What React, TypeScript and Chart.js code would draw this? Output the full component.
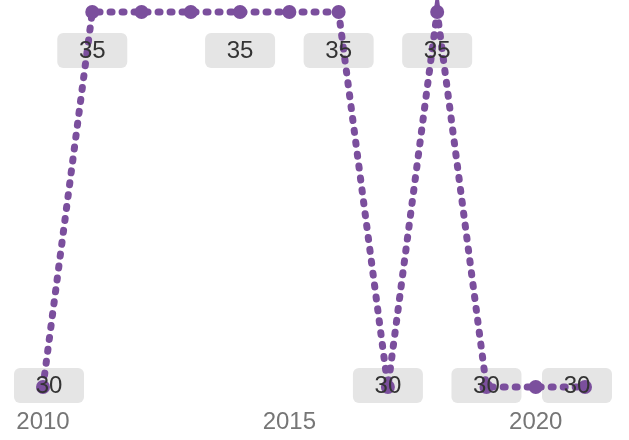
import React, { useEffect, useRef } from "react";
import { Chart, registerables } from "chart.js";

Chart.register(...registerables);

const years: number[] = [2010, 2011, 2012, 2013, 2014, 2015, 2016, 2017, 2018, 2019, 2020, 2021];
const values: number[] = [30, 35, 35, 35, 35, 35, 35, 30, 35, 30, 30, 30];
const showLabel: boolean[] = [true, true, false, false, true, false, true, true, true, true, false, true];
const xTicks: number[] = [2010, 2015, 2020];

const PURPLE = "#7b4f9d";
const FONT = "'Liberation Sans', Arial, Helvetica, sans-serif";

const labelPlugin = {
  id: "boxLabels",
  beforeDatasetsDraw(chart: any) {
    drawLabels(chart, "box");
  },
  afterDatasetsDraw(chart: any) {
    drawLabels(chart, "text");
  },
};

function drawLabels(chart: any, part: "box" | "text") {
  const ctx = chart.ctx as CanvasRenderingContext2D;
  const meta = chart.getDatasetMeta(0);
  const w = 70;
  const h = 35;
  const maxBottom = chart.height - 37;
  const minLeft = 14;
  const maxRight = chart.width - 17;
  ctx.save();
  meta.data.forEach((pt: any, i: number) => {
    if (!showLabel[i]) return;
    let cx = pt.x;
    let cy = pt.y + 38.5;
    if (cy + h / 2 > maxBottom) cy = maxBottom - h / 2;
    let left = cx - w / 2;
    if (left < minLeft) left = minLeft;
    if (left + w > maxRight) left = maxRight - w;
    cx = left + w / 2;
    if (part === "box") {
      ctx.fillStyle = "#e5e5e5";
      ctx.beginPath();
      (ctx as any).roundRect(left, cy - h / 2, w, h, 6);
      ctx.fill();
    } else {
      ctx.fillStyle = "#333333";
      ctx.font = `24px ${FONT}`;
      ctx.textAlign = "center";
      ctx.textBaseline = "middle";
      ctx.fillText(String(values[i]), cx, cy + 1);
    }
  });
  ctx.restore();
}

export default function App() {
  const ref = useRef<HTMLCanvasElement | null>(null);

  useEffect(() => {
    document.body.style.margin = "0";
    if (!ref.current) return;
    const chart = new Chart(ref.current, {
      type: "line",
      data: {
        datasets: [
          {
            data: years.map((y, i) => ({ x: y, y: values[i] })),
            borderColor: PURPLE,
            backgroundColor: PURPLE,
            borderWidth: 7,
            borderDash: [2, 10],
            borderCapStyle: "round",
            pointRadius: 7,
            pointBackgroundColor: PURPLE,
            pointBorderWidth: 0,
            tension: 0,
            clip: false as any,
          },
        ],
      },
      options: {
        animation: false,
        responsive: true,
        maintainAspectRatio: false,
        layout: { autoPadding: false, padding: { left: 43, right: 44, top: 12, bottom: 0 } },
        plugins: {
          legend: { display: false },
          tooltip: { enabled: false },
        },
        scales: {
          y: { display: false, min: 30, max: 35 },
          x: {
            type: "linear",
            min: 2010,
            max: 2021,
            grid: { display: false, drawTicks: false },
            border: { display: false },
            afterBuildTicks: (scale: any) => {
              scale.ticks = xTicks.map((v) => ({ value: v }));
            },
            afterFit: (scale: any) => {
              scale.height = 53;
              scale.paddingLeft = 0;
              scale.paddingRight = 0;
              scale.paddingTop = 0;
              scale.paddingBottom = 0;
            },
            ticks: {
              color: "#767676",
              font: { size: 24, family: FONT },
              padding: 21,
              maxRotation: 0,
              callback: (v: any) => String(v),
            },
          },
        },
      },
      plugins: [labelPlugin],
    });
    return () => chart.destroy();
  }, []);

  return (
    <div style={{ width: 629, height: 440 }}>
      <canvas ref={ref} />
    </div>
  );
}
